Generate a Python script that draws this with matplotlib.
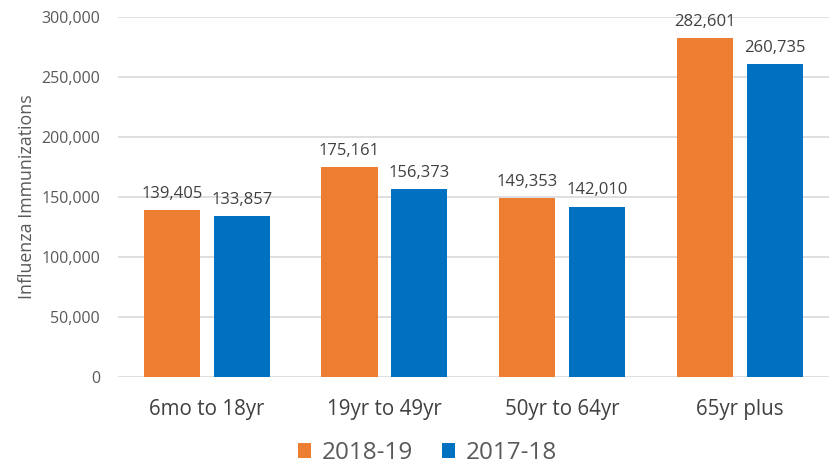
import numpy as np
import matplotlib.pyplot as plt

categories = ["6mo to 18yr", "19yr to 49yr", "50yr to 64yr", "65yr plus"]
s2018 = [139405, 175161, 149353, 282601]
s2017 = [133857, 156373, 142010, 260735]
labels = ["2018-19", "2017-18"]

plt.rcParams['font.family'] = ['Open Sans', 'DejaVu Sans']
grey = "#595959"

fig = plt.figure(figsize=(8.31, 4.75), dpi=100)
ax = fig.add_axes([0.142, 0.206, 0.855, 0.758])

x = np.arange(len(categories))
w = 0.316
off = 0.197
b1 = ax.bar(x - off, s2018, w, color="#ED7D31", label=labels[0], zorder=3)
b2 = ax.bar(x + off, s2017, w, color="#0070C0", label=labels[1], zorder=3)

for bars in (b1, b2):
    for r in bars:
        ax.annotate(f"{int(r.get_height()):,}", (r.get_x() + r.get_width() / 2, r.get_height()),
                    xytext=(0, 6), textcoords="offset points", ha="center", va="bottom",
                    fontsize=12, color="#404040")

ax.set_xlim(-0.5, 3.5)
ax.set_ylim(0, 300000)
ax.set_yticks(range(0, 300001, 50000))
ax.set_yticklabels([f"{v:,}" for v in range(0, 300001, 50000)], fontsize=11.5, color=grey)
ax.set_xticks(x)
ax.set_xticklabels(categories, fontsize=14.8, color="#404040")
ax.tick_params(length=0)
ax.tick_params(axis="x", pad=16)
ax.tick_params(axis="y", pad=13)
ax.grid(axis="y", color="#D9D9D9", lw=1.2, zorder=0)
for s in ax.spines.values():
    s.set_visible(False)
ax.set_ylabel("Influenza Immunizations", fontsize=12.8, color=grey, labelpad=4)

ax.legend(loc="upper center", bbox_to_anchor=(0.4356, -0.13), ncol=2, frameon=False,
          fontsize=17.5, handlelength=0.54, handleheight=0.54, handletextpad=0.45,
          columnspacing=1.2, labelcolor=grey, borderpad=0.2)

fig.savefig("out.png", dpi=100)
